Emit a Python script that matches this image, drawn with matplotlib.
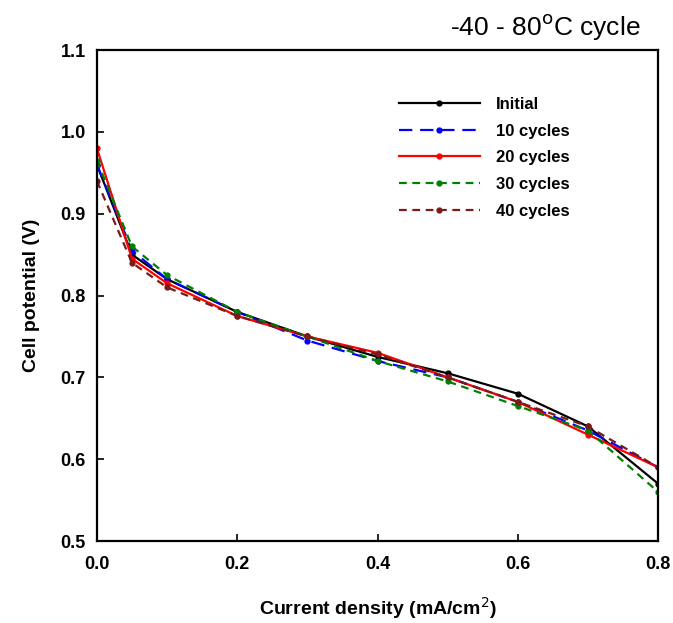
import numpy as np
import matplotlib.pyplot as plt

plt.rcParams['font.family'] = ['Liberation Sans', 'DejaVu Sans']

# 电流密度
current = [0.0, 0.05, 0.1, 0.2, 0.3, 0.4, 0.5, 0.6, 0.7, 0.8]

# 各循环后的电池电压
initial = [0.960, 0.850, 0.820, 0.780, 0.750, 0.725, 0.705, 0.680, 0.640, 0.570]
cyc10 = [0.960, 0.855, 0.820, 0.780, 0.745, 0.720, 0.700, 0.670, 0.635, 0.590]
cyc20 = [0.980, 0.845, 0.815, 0.775, 0.750, 0.730, 0.700, 0.670, 0.630, 0.590]
cyc30 = [0.965, 0.860, 0.825, 0.780, 0.750, 0.720, 0.695, 0.665, 0.635, 0.560]
cyc40 = [0.940, 0.840, 0.810, 0.775, 0.750, 0.728, 0.700, 0.670, 0.640, 0.590]

fig = plt.figure(figsize=(6.73, 6.23), dpi=100)
ax = fig.add_axes([0.144, 0.1316, 0.834, 0.788])

ax.plot(current, initial, color="black", lw=1.6, marker="o", ms=3.5, label="Initial")
ax.plot(current, cyc10, color="blue", lw=1.6, ls=(0, (6, 3.5)), marker="o", ms=3.5, label="10 cycles")
ax.plot(current, cyc20, color="red", lw=1.6, marker="o", ms=3.5, label="20 cycles")
ax.plot(current, cyc30, color="green", lw=1.6, ls=(0, (3.5, 2.5)), marker="o", ms=3.5, label="30 cycles")
ax.plot(current, cyc40, color="#7a1a1a", lw=1.6, ls=(0, (3.5, 2.5)), marker="o", ms=3.5, label="40 cycles")

ax.set_xlim(0, 0.8)
ax.set_ylim(0.5, 1.1)
ax.set_xticks(np.arange(0, 0.81, 0.2))
ax.set_yticks(np.arange(0.5, 1.11, 0.1))
ax.xaxis.set_major_formatter(plt.FormatStrFormatter('%.1f'))
ax.yaxis.set_major_formatter(plt.FormatStrFormatter('%.1f'))
ax.tick_params(direction="in", length=5, width=1.2, labelsize=13)
ax.tick_params(axis="x", pad=11)
ax.tick_params(axis="y", pad=8)
for lab in ax.get_xticklabels() + ax.get_yticklabels():
    lab.set_fontweight("bold")
for s in ax.spines.values():
    s.set_linewidth(1.6)

ax.set_xlabel("Current density (mA/cm$^2$)", fontsize=14, fontweight="bold", labelpad=16)
ax.set_ylabel("Cell potential (V)", fontsize=14, fontweight="bold", labelpad=15)

leg = ax.legend(loc="upper left", bbox_to_anchor=(0.511, 0.935), frameon=False,
                prop={"weight": "bold", "size": 12}, handlelength=4.85,
                labelspacing=0.7, handletextpad=1.0)

fig.text(0.952, 0.956, "-40 - 80$^{\\rm o}$C cycle", ha="right", va="center", fontsize=19)

fig.savefig("out.png", dpi=100)
